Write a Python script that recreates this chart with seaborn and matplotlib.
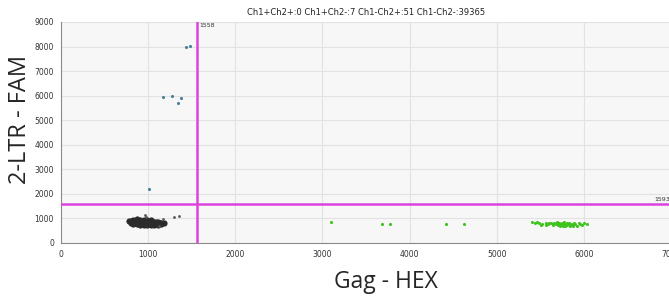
"""
ddPCR 2-D amplitude plot: 2-LTR (FAM) vs Gag (HEX).
"""

import matplotlib
matplotlib.use("Agg")
import matplotlib.pyplot as plt
import pandas as pd
import seaborn as sns

# double-negative cluster (Ch1-Ch2-), hand-read outline of the dense blob
neg_x = [780, 800, 800, 830, 830, 830, 870, 870, 870, 870, 910, 910, 910, 910,
         950, 950, 950, 950, 990, 990, 990, 990, 1030, 1030, 1030, 1030,
         1070, 1070, 1070, 1110, 1110, 1110, 1150, 1150, 1180,
         850, 890, 930, 970, 1010, 1050, 1090, 1130]
neg_y = [880, 820, 900, 780, 860, 940, 760, 830, 900, 960, 740, 810, 880, 950,
         730, 800, 870, 940, 720, 790, 860, 930, 720, 790, 860, 920,
         730, 800, 870, 740, 810, 870, 770, 830, 800,
         900, 870, 840, 820, 820, 830, 840, 800]

# stray negative droplets just outside the blob
stray_x = [960, 1170, 1300, 1350, 970, 1120]
stray_y = [1150, 980, 1050, 1100, 1060, 690]

# Ch1+Ch2- droplets (FAM positive)
fam_x = [1433, 1483, 1169, 1272, 1376, 1341, 1015]
fam_y = [7968, 8021, 5932, 5998, 5904, 5700, 2211]

# Ch1-Ch2+ droplets (HEX positive)
hex_x = [3100, 3680, 3780, 4420, 4620,
         5400, 5440, 5480, 5520, 5560, 5590, 5620, 5640, 5660, 5680, 5700,
         5710, 5720, 5740, 5750, 5760, 5770, 5780, 5790, 5800, 5810, 5820,
         5840, 5850, 5870, 5880, 5900, 5920, 5950, 5980, 6040, 5730, 5760,
         5790, 5830, 5650, 5600, 5510, 5460, 5940, 5690, 5870, 6000, 5560,
         5760, 5720]
hex_y = [850, 760, 790, 790, 770,
         870, 820, 800, 760, 830, 780, 800, 760, 820, 790, 740,
         830, 780, 720, 800, 760, 850, 700, 780, 740, 810, 760,
         700, 790, 740, 820, 770, 700, 760, 720, 780, 760, 720,
         740, 800, 740, 820, 730, 850, 810, 870, 680, 800, 740,
         690, 700]

thr_hex = 1558
thr_fam = 1593
title = "Ch1+Ch2+:0 Ch1+Ch2-:7 Ch1-Ch2+:51 Ch1-Ch2-:39365"

sns.set_style("whitegrid", {"axes.facecolor": "#f7f7f7",
                            "grid.color": "#e2e2e2",
                            "axes.edgecolor": "#8a8a8a"})
plt.rcParams["font.family"] = ["DejaVu Sans"]

fig = plt.figure(figsize=(6.69, 3.04), dpi=100)
ax = fig.add_axes([0.0912, 0.2007, 0.912, 0.727])

neg = pd.DataFrame({"x": neg_x, "y": neg_y})
stray = pd.DataFrame({"x": stray_x, "y": stray_y})
fam = pd.DataFrame({"x": fam_x, "y": fam_y})
hexd = pd.DataFrame({"x": hex_x, "y": hex_y})

sns.scatterplot(data=neg, x="x", y="y", ax=ax, color="#2b2b2b", s=20,
                linewidth=0, zorder=3)
sns.scatterplot(data=stray, x="x", y="y", ax=ax, color="#555555", s=4,
                linewidth=0, zorder=3)
sns.scatterplot(data=fam, x="x", y="y", ax=ax, color="#4a7f9a", s=5,
                linewidth=0, zorder=3)
sns.scatterplot(data=hexd, x="x", y="y", ax=ax, color="#3ec41c", s=5,
                linewidth=0, zorder=3)

ax.axvline(thr_hex, color="#dd44dd", lw=1.8, zorder=4)
ax.axhline(thr_fam, color="#dd44dd", lw=1.8, zorder=4)
ax.text(thr_hex + 25, 8950, str(thr_hex), fontsize=4.5, va="top", color="#333333")
ax.text(6985, thr_fam + 60, str(thr_fam), fontsize=4.5, va="bottom", ha="right",
        color="#333333")

ax.set_xlim(0, 7000)
ax.set_ylim(0, 9000)
ax.set_xticks(range(0, 7001, 1000))
ax.set_yticks(range(0, 9001, 1000))
ax.tick_params(labelsize=5.5, colors="#333333", length=2, direction="inout",
               pad=4)
for side in ["top", "right"]:
    ax.spines[side].set_visible(False)

ax.set_title(title, fontsize=6, pad=5, color="#222222")
ax.set_xlabel("Gag - HEX", fontsize=16.5, family="Open Sans")
ax.set_ylabel("2-LTR - FAM", fontsize=17, family="Open Sans")
ax.xaxis.set_label_coords(0.532, -0.122)
ax.yaxis.set_label_coords(-0.048, 0.557)

fig.savefig("out.png", dpi=100)
